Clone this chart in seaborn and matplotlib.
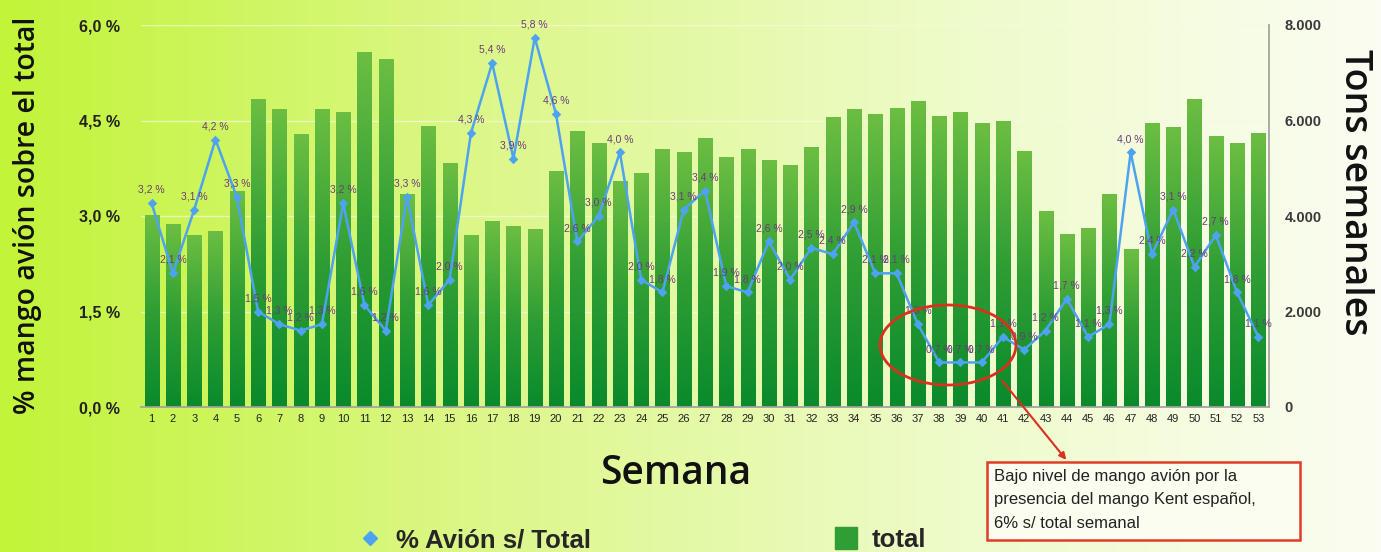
import numpy as np
import pandas as pd
import matplotlib
matplotlib.use("Agg")
import matplotlib.pyplot as plt
import seaborn as sns
from matplotlib.colors import LinearSegmentedColormap
from matplotlib.lines import Line2D
from matplotlib.patches import Ellipse, Rectangle, FancyArrowPatch

# ---- data ----
weeks = [str(i) for i in range(1, 54)]
totals = [4020, 3830, 3600, 3670, 4520, 6450, 6220, 5700, 6230, 6160,
          7420, 7280, 4440, 5880, 5100, 3600, 3880, 3790, 3720, 4930,
          5780, 5510, 4720, 4890, 5400, 5330, 5630, 5220, 5400, 5170,
          5060, 5430, 6060, 6220, 6120, 6260, 6390, 6080, 6160, 5930,
          5980, 5350, 4090, 3620, 3740, 4460, 3290, 5930, 5850, 6450,
          5660, 5510, 5720]
pct_avion = [3.2, 2.1, 3.1, 4.2, 3.3, 1.5, 1.3, 1.2, 1.3, 3.2,
             1.6, 1.2, 3.3, 1.6, 2.0, 4.3, 5.4, 3.9, 5.8, 4.6,
             2.6, 3.0, 4.0, 2.0, 1.8, 3.1, 3.4, 1.9, 1.8, 2.6,
             2.0, 2.5, 2.4, 2.9, 2.1, 2.1, 1.3, 0.7, 0.7, 0.7,
             1.1, 0.9, 1.2, 1.7, 1.1, 1.3, 4.0, 2.4, 3.1, 2.2,
             2.7, 1.8, 1.1]
left_ticks = [0.0, 1.5, 3.0, 4.5, 6.0]
right_ticks = [0, 2000, 4000, 6000, 8000]
note_text = "Bajo nivel de mango avión por la\npresencia del mango Kent español,\n6% s/ total semanal"

df = pd.DataFrame({"semana": weeks, "total": totals, "pct": pct_avion})

sns.set_theme(style="white")
plt.rcParams['font.family'] = ['Liberation Sans', 'DejaVu Sans']

W, H = 1381, 552
fig = plt.figure(figsize=(W / 100, H / 100), dpi=100)

# background gradient
bg = fig.add_axes([0, 0, 1, 1], zorder=-5)
bg_cmap = LinearSegmentedColormap.from_list("bg", ["#c2f438", "#dbf786", "#edfbc6", "#fbfdf2"])
grad = np.linspace(0, 1, 256).reshape(1, -1)
bg.imshow(grad, aspect="auto", cmap=bg_cmap, extent=[0, 1, 0, 1])
bg.set_axis_off()

x0, x1 = 141 / W, 1269 / W
y0, y1 = (H - 407) / H, (H - 25) / H
ax2 = fig.add_axes([x0, y0, x1 - x0, y1 - y0], zorder=1)   # tons (bars)
ax = fig.add_axes([x0, y0, x1 - x0, y1 - y0], zorder=2, sharex=ax2)  # percent (line)

# bars
sns.barplot(data=df, x="semana", y="total", ax=ax2, width=0.66, color="#3aa83a",
            saturation=1, edgecolor="none")
bar_cmap = LinearSegmentedColormap.from_list("bar", ["#0a8a2c", "#2f9e34", "#6cbe42"])
vgrad = np.linspace(0, 1, 256).reshape(-1, 1)
for p in list(ax2.patches):
    bx, bw, bh = p.get_x(), p.get_width(), p.get_height()
    ax2.imshow(vgrad, extent=[bx, bx + bw, 0, bh], origin="lower", aspect="auto",
               cmap=bar_cmap, zorder=2)
    p.set_facecolor("none")
ax2.set_xlim(-0.5, len(weeks) - 0.5)
ax2.set_ylim(0, 8000)
ax2.set_aspect("auto")
ax2.patch.set_visible(False)
ax2.yaxis.tick_right()
ax2.yaxis.set_label_position("right")
ax2.set_yticks(right_ticks)
ax2.set_yticklabels([f"{v:,}".replace(",", ".") for v in right_ticks],
                    fontsize=10.5, fontweight="bold", color="#3a3a3a")
ax2.tick_params(axis="y", length=0, pad=11)
ax2.set_axisbelow(True)
ax2.grid(axis="y", color="#f4fbe0", linewidth=1, alpha=0.7)
ax2.grid(axis="x", visible=False)
ax2.set_xlabel("")
ax2.set_ylabel("Tons semanales", fontsize=27, rotation=-90, color="#111111",
               ha="center", va="center", fontweight="semibold",
               family=["Open Sans", "DejaVu Sans"])
ax2.yaxis.set_label_coords((1355 - 141) / 1128, (407 - 192) / 382)
for s in ["top", "left"]:
    ax2.spines[s].set_visible(False)
ax2.spines["right"].set_color("#a0a0a0")
ax2.spines["bottom"].set_color("#a0a0a0")
ax2.set_xticks(range(len(weeks)))
ax2.set_xticklabels(weeks, fontsize=8, color="#222222")
ax2.tick_params(axis="x", length=0, pad=5)

# line
sns.pointplot(data=df, x="semana", y="pct", ax=ax, color="#4da3f2", markers="D",
              markersize=3.5, linewidth=1.8)
ax.set_ylim(0, 6)
ax.set_xlim(-0.5, len(weeks) - 0.5)
ax.patch.set_visible(False)
for s in ["top", "right", "bottom", "left"]:
    ax.spines[s].set_visible(False)
ax.set_yticks(left_ticks)
ax.set_yticklabels([f"{v:.1f} %".replace(".", ",") for v in left_ticks],
                   fontsize=11.5, fontweight="bold", color="#222222")
ax.tick_params(axis="y", length=0, pad=15)
ax.tick_params(axis="x", bottom=False, labelbottom=False)
ax.set_xlabel("")
ax.set_ylabel("% mango avión sobre el total", fontsize=20.5, color="#111111",
              ha="center", va="center", fontweight="semibold",
              family=["Open Sans", "DejaVu Sans"])
ax.yaxis.set_label_coords((28 - 141) / 1128, (407 - 215) / 382)
ax.grid(False)
for i, v in enumerate(pct_avion):
    ax.annotate(f"{v:.1f} %".replace(".", ","), (i, v), xytext=(0, 6),
                textcoords="offset points", ha="center", va="bottom",
                fontsize=7.5, color="#6a3c78")

# x label
fig.text(676 / W, 1 - 474 / H, "Semana", fontsize=28, ha="center", va="center",
         color="#111111", fontweight="semibold", family=["Open Sans", "DejaVu Sans"])

# ellipse + arrow + note
ell = Ellipse((948 / W, 1 - 345 / H), 136 / W, 80 / H, transform=fig.transFigure,
              fill=False, edgecolor="#d8321e", linewidth=2, zorder=10)
fig.patches.append(ell)
arr = FancyArrowPatch((1000 / W, 1 - 378 / H), (1068 / W, 1 - 462 / H),
                      transform=fig.transFigure, arrowstyle="-|>", mutation_scale=10,
                      color="#d8321e", linewidth=1.5, zorder=10)
fig.patches.append(arr)
rect = Rectangle((987 / W, 1 - 540 / H), 313 / W, 78 / H, transform=fig.transFigure,
                 facecolor="#fbfdf0", edgecolor="#e03c28", linewidth=1.8, zorder=10)
fig.patches.append(rect)
fig.text(994 / W, 1 - 469 / H, note_text, fontsize=12, ha="left", va="top",
         color="#222222", linespacing=1.7, zorder=11,
         family=["Liberation Sans Narrow", "Liberation Sans", "DejaVu Sans"])

# legend (two entries placed separately)
h1 = [Line2D([0], [0], marker="D", color="none", markerfacecolor="#4da3f2",
             markeredgecolor="#4da3f2", markersize=7)]
h2 = [Line2D([0], [0], marker="s", color="none", markerfacecolor="#2f9e34",
             markeredgecolor="#2f9e34", markersize=16)]
lg1 = fig.legend(h1, ["% Avión s/ Total"], loc="center left",
                 bbox_to_anchor=(357 / W, 1 - 540 / H), frameon=False,
                 borderpad=0, borderaxespad=0, handlelength=1, handletextpad=0.5,
                 prop={"size": 18.5, "weight": "bold"})
lg2 = fig.legend(h2, ["total"], loc="center left",
                 bbox_to_anchor=(833 / W, 1 - 540 / H), frameon=False,
                 borderpad=0, borderaxespad=0, handlelength=1, handletextpad=0.5,
                 prop={"size": 18.5, "weight": "bold"})

fig.savefig("out.png", dpi=100)
